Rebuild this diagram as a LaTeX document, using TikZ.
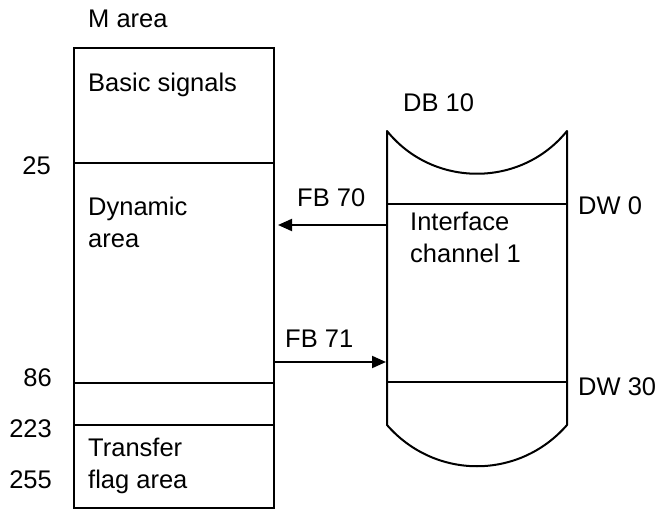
\documentclass[tikz,border=0pt]{standalone}
\usepackage{fontspec}
\setmainfont{Liberation Sans}
\usetikzlibrary{arrows.meta,positioning,calc}

\begin{document}
\begin{tikzpicture}[
  x=1pt, y=-1pt,
  font=\fontsize{25.5}{32}\selectfont,
  >={Triangle[length=14pt,width=12pt]},
  cell/.style={draw,line width=2pt,minimum width=200pt,inner sep=0pt,anchor=north west},
  txt/.style={inner sep=0pt,anchor=base west,align=left},
  num/.style={inner sep=0pt,anchor=base east},
  wall/.style={line width=2pt,line join=round},
  flow/.style={->,line width=2pt},
]
\useasboundingbox (0,0) rectangle (658,510);

% left: M area cells
\node[cell,minimum height=115pt] (basic)    at (73,47)  {};
\node[cell,minimum height=220pt] (dyn)      at (73,162) {};
\node[cell,minimum height=42pt]  (spare)    at (73,382) {};
\node[cell,minimum height=83pt]  (transfer) at (73,424) {};

% (base anchor = last line)
\node[txt] (mhead)  at (88,28)  {M area};
\node[txt] (basict) at (88,92)  {Basic signals};
\node[txt] (dynt)   at (88,248) {Dynamic\\area};
\node[txt] (trt)    at (88,488) {Transfer\\flag area};

\node[num] (n25)  at (51,175) {25};
\node[num] (n86)  at (52,386) {86};
\node[num] (n223) at (52,437) {223};
\node[num] (n255) at (52,488) {255};

% right: DB 10 drum
\draw[wall] (387,131) .. controls (433,188) and (521,188) .. (567,131)
  -- (567,425) .. controls (519,480) and (435,480) .. (387,425) -- cycle;
\draw[wall] (387,204) coordinate (dw0l) -- (567,204) coordinate (dw0r);
\draw[wall] (387,382) coordinate (dw30l) -- (567,382) coordinate (dw30r);

\node[txt] (dbt)   at (403,112) {DB 10};
\node[txt] (ift)   at (410,263) {Interface\\channel 1};
\node[txt] (dw0)   at (578,215) {DW 0};
\node[txt] (dw30)  at (578,395) {DW 30};

% arrows
\coordinate (in70) at (387,225);
\coordinate (in71) at (386,362);
\draw[flow,shorten >=3pt] (in70) -- (in70 -| dyn.east);
\draw[flow] (in71 -| dyn.east) -- (in71);
\node[txt] (fb70) at (297,207) {FB 70};
\node[txt] (fb71) at (285,347) {FB 71};

\end{tikzpicture}
\end{document}
